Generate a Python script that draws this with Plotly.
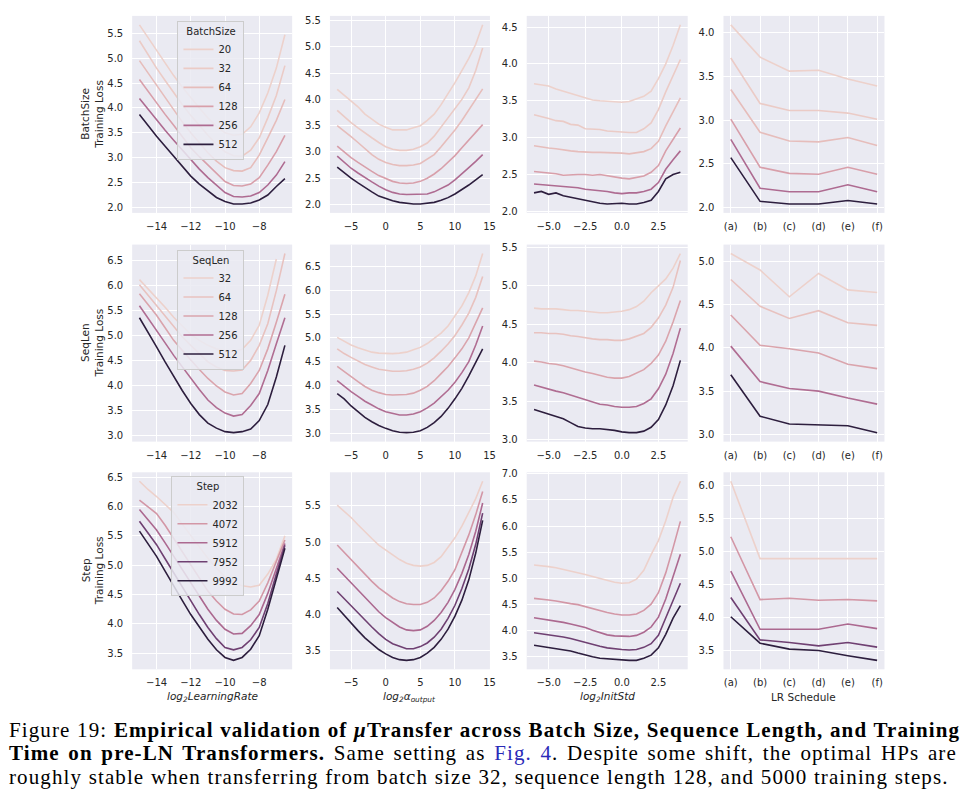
import numpy as np
import plotly.graph_objects as go

# ---------------- data ----------------
BATCH_SIZES = [20, 32, 64, 128, 256, 512]
SEQ_LENS = [32, 64, 128, 256, 512]
STEPS = [2032, 4072, 5912, 7952, 9992]

LOG2_LR = [-15, -14.5, -14, -13.5, -13, -12.5, -12, -11.5, -11, -10.5, -10,
           -9.5, -9, -8.5, -8, -7.5, -7, -6.5]
LOG2_ALPHA = [-7, -6, -5, -4, -3, -2, -1, 0, 1, 2, 3, 4, 5, 6, 7, 8, 9, 10,
              11, 12, 13, 14]
LOG2_INITSTD = [-6, -5.5, -5, -4.5, -4, -3.5, -3, -2.5, -2, -1.5, -1, -0.5, 0,
                0.5, 1, 1.5, 2, 2.5, 3, 3.5, 4]
LR_SCHEDULES = ["(a)", "(b)", "(c)", "(d)", "(e)", "(f)"]

# Batch size row
BS_LR = [
    [5.67, 5.41, 5.15, 4.90, 4.65, 4.42, 4.20, 4.00, 3.80, 3.63, 3.50, 3.45, 3.47, 3.62, 3.90, 4.30, 4.80, 5.47],
    [5.35, 5.07, 4.80, 4.55, 4.30, 4.07, 3.85, 3.64, 3.45, 3.27, 3.12, 3.04, 3.03, 3.15, 3.40, 3.80, 4.25, 4.85],
    [4.95, 4.70, 4.45, 4.20, 3.95, 3.72, 3.50, 3.29, 3.10, 2.93, 2.80, 2.74, 2.73, 2.80, 3.05, 3.40, 3.75, 4.17],
    [4.57, 4.33, 4.10, 3.87, 3.65, 3.42, 3.20, 3.02, 2.85, 2.67, 2.52, 2.44, 2.43, 2.47, 2.60, 2.85, 3.12, 3.45],
    [4.19, 3.97, 3.75, 3.55, 3.35, 3.15, 2.95, 2.77, 2.60, 2.44, 2.30, 2.22, 2.21, 2.23, 2.30, 2.45, 2.65, 2.92],
    [3.87, 3.64, 3.43, 3.23, 3.03, 2.83, 2.63, 2.47, 2.33, 2.20, 2.12, 2.07, 2.07, 2.09, 2.15, 2.25, 2.42, 2.58],
]
BS_ALPHA = [
    [4.19, 4.08, 3.98, 3.86, 3.72, 3.62, 3.53, 3.47, 3.42, 3.42, 3.42, 3.46, 3.50, 3.60, 3.72, 3.90, 4.10, 4.32, 4.55, 4.78, 5.05, 5.42],
    [3.79, 3.67, 3.56, 3.46, 3.36, 3.27, 3.18, 3.10, 3.05, 3.03, 3.03, 3.05, 3.10, 3.17, 3.30, 3.47, 3.65, 3.82, 4.00, 4.22, 4.55, 4.98],
    [3.50, 3.40, 3.29, 3.18, 3.07, 2.95, 2.86, 2.80, 2.76, 2.74, 2.74, 2.75, 2.78, 2.86, 2.95, 3.10, 3.25, 3.42, 3.60, 3.80, 4.00, 4.20],
    [3.11, 3.00, 2.89, 2.80, 2.71, 2.63, 2.55, 2.49, 2.44, 2.41, 2.40, 2.41, 2.44, 2.50, 2.58, 2.68, 2.80, 2.93, 3.08, 3.23, 3.38, 3.52],
    [2.92, 2.80, 2.69, 2.60, 2.51, 2.43, 2.35, 2.28, 2.23, 2.20, 2.19, 2.19, 2.19, 2.20, 2.24, 2.30, 2.37, 2.47, 2.58, 2.70, 2.82, 2.95],
    [2.71, 2.60, 2.50, 2.41, 2.32, 2.24, 2.16, 2.11, 2.07, 2.04, 2.02, 2.01, 2.01, 2.02, 2.04, 2.08, 2.13, 2.20, 2.28, 2.37, 2.47, 2.57],
]
BS_INIT = [
    [3.73, 3.71, 3.70, 3.66, 3.63, 3.61, 3.58, 3.54, 3.51, 3.50, 3.49, 3.48, 3.48, 3.49, 3.52, 3.56, 3.63, 3.80, 4.00, 4.25, 4.53],
    [3.31, 3.29, 3.26, 3.23, 3.22, 3.18, 3.17, 3.12, 3.12, 3.11, 3.09, 3.08, 3.08, 3.07, 3.07, 3.12, 3.20, 3.38, 3.62, 3.85, 4.06],
    [2.89, 2.88, 2.86, 2.85, 2.83, 2.82, 2.81, 2.80, 2.80, 2.80, 2.80, 2.80, 2.79, 2.78, 2.79, 2.81, 2.85, 2.95, 3.16, 3.36, 3.54],
    [2.54, 2.53, 2.53, 2.51, 2.49, 2.50, 2.50, 2.50, 2.49, 2.50, 2.48, 2.47, 2.45, 2.44, 2.46, 2.48, 2.53, 2.62, 2.82, 2.98, 3.13],
    [2.37, 2.36, 2.35, 2.34, 2.33, 2.33, 2.32, 2.30, 2.29, 2.28, 2.27, 2.25, 2.24, 2.25, 2.25, 2.27, 2.30, 2.39, 2.57, 2.70, 2.82],
    [2.25, 2.27, 2.23, 2.25, 2.21, 2.19, 2.17, 2.14, 2.12, 2.11, 2.10, 2.11, 2.11, 2.10, 2.10, 2.12, 2.15, 2.27, 2.44, 2.50, 2.53],
]
BS_SCHED = [
    [4.09, 3.72, 3.56, 3.57, 3.47, 3.39],
    [3.71, 3.19, 3.11, 3.11, 3.08, 3.01],
    [3.35, 2.86, 2.76, 2.75, 2.80, 2.71],
    [3.01, 2.46, 2.39, 2.38, 2.46, 2.38],
    [2.78, 2.22, 2.18, 2.18, 2.26, 2.18],
    [2.57, 2.07, 2.04, 2.04, 2.08, 2.04],
]

# Sequence length row
SL_LR = [
    [6.11, 5.93, 5.76, 5.56, 5.36, 5.18, 5.02, 4.90, 4.80, 4.73, 4.69, 4.67, 4.72, 4.90, 5.20, 5.80, 6.52, None],
    [6.01, 5.80, 5.59, 5.37, 5.16, 4.97, 4.80, 4.63, 4.47, 4.37, 4.30, 4.29, 4.31, 4.50, 4.80, 5.23, 5.89, 6.63],
    [5.83, 5.62, 5.40, 5.15, 4.90, 4.70, 4.50, 4.32, 4.14, 3.99, 3.87, 3.81, 3.84, 4.04, 4.30, 4.73, 5.26, 5.82],
    [5.59, 5.35, 5.10, 4.85, 4.60, 4.37, 4.14, 3.92, 3.71, 3.56, 3.45, 3.39, 3.42, 3.60, 3.84, 4.30, 4.83, 5.35],
    [5.35, 5.07, 4.77, 4.47, 4.17, 3.90, 3.64, 3.42, 3.25, 3.15, 3.08, 3.06, 3.08, 3.13, 3.30, 3.62, 4.17, 4.80],
]
SL_ALPHA = [
    [5.01, 4.93, 4.85, 4.79, 4.74, 4.70, 4.68, 4.67, 4.67, 4.68, 4.70, 4.75, 4.80, 4.88, 4.99, 5.10, 5.25, 5.45, 5.67, 5.95, 6.30, 6.77],
    [4.77, 4.67, 4.59, 4.51, 4.44, 4.39, 4.34, 4.32, 4.30, 4.30, 4.31, 4.34, 4.39, 4.47, 4.58, 4.72, 4.87, 5.05, 5.27, 5.52, 5.85, 6.29],
    [4.40, 4.29, 4.18, 4.08, 3.98, 3.90, 3.85, 3.81, 3.80, 3.80, 3.81, 3.84, 3.90, 3.98, 4.10, 4.25, 4.40, 4.58, 4.77, 5.00, 5.30, 5.63],
    [4.10, 3.98, 3.87, 3.77, 3.67, 3.59, 3.51, 3.45, 3.41, 3.38, 3.38, 3.40, 3.45, 3.53, 3.63, 3.76, 3.90, 4.07, 4.27, 4.50, 4.85, 5.25],
    [3.83, 3.72, 3.57, 3.44, 3.33, 3.24, 3.16, 3.10, 3.05, 3.02, 3.01, 3.02, 3.05, 3.12, 3.22, 3.35, 3.52, 3.72, 3.94, 4.20, 4.48, 4.77],
]
SL_INIT = [
    [4.71, 4.70, 4.70, 4.70, 4.69, 4.68, 4.68, 4.67, 4.66, 4.65, 4.65, 4.66, 4.67, 4.69, 4.73, 4.80, 4.91, 5.00, 5.09, 5.23, 5.42],
    [4.39, 4.39, 4.38, 4.38, 4.37, 4.35, 4.34, 4.32, 4.31, 4.30, 4.30, 4.29, 4.29, 4.31, 4.34, 4.38, 4.46, 4.58, 4.75, 4.98, 5.33],
    [4.02, 4.01, 3.99, 3.98, 3.96, 3.93, 3.90, 3.88, 3.86, 3.83, 3.81, 3.80, 3.80, 3.82, 3.86, 3.91, 3.99, 4.10, 4.28, 4.53, 4.81],
    [3.71, 3.68, 3.65, 3.63, 3.61, 3.58, 3.55, 3.51, 3.48, 3.46, 3.45, 3.43, 3.42, 3.42, 3.43, 3.47, 3.53, 3.66, 3.85, 4.12, 4.45],
    [3.39, 3.36, 3.32, 3.29, 3.27, 3.22, 3.17, 3.15, 3.14, 3.14, 3.13, 3.12, 3.10, 3.09, 3.09, 3.11, 3.16, 3.26, 3.45, 3.70, 4.03],
]
SL_SCHED = [
    [5.09, 4.90, 4.59, 4.86, 4.67, 4.64],
    [4.79, 4.48, 4.34, 4.43, 4.29, 4.26],
    [4.38, 4.03, 3.99, 3.94, 3.81, 3.76],
    [4.02, 3.61, 3.53, 3.50, 3.42, 3.35],
    [3.69, 3.21, 3.12, 3.11, 3.10, 3.02],
]

# Training step row
ST_LR = [
    [6.43, 6.29, 6.17, 6.03, 5.90, 5.70, 5.50, 5.30, 5.12, 4.95, 4.80, 4.70, 4.65, 4.63, 4.66, 4.85, 5.10, 5.50],
    [6.11, 6.00, 5.88, 5.68, 5.46, 5.24, 5.01, 4.78, 4.56, 4.39, 4.25, 4.17, 4.16, 4.24, 4.39, 4.70, 5.05, 5.43],
    [5.95, 5.78, 5.60, 5.38, 5.15, 4.93, 4.70, 4.47, 4.25, 4.06, 3.91, 3.83, 3.84, 3.97, 4.16, 4.52, 4.95, 5.37],
    [5.75, 5.55, 5.35, 5.11, 4.87, 4.63, 4.39, 4.16, 3.94, 3.75, 3.60, 3.56, 3.60, 3.73, 3.94, 4.35, 4.85, 5.34],
    [5.58, 5.37, 5.15, 4.90, 4.64, 4.40, 4.16, 3.94, 3.74, 3.56, 3.43, 3.38, 3.43, 3.57, 3.80, 4.25, 4.75, 5.29],
]
ST_ALPHA = [
    [5.51, 5.43, 5.34, 5.24, 5.14, 5.05, 4.96, 4.89, 4.82, 4.76, 4.71, 4.68, 4.67, 4.68, 4.72, 4.80, 4.93, 5.06, 5.22, 5.40, 5.60, 5.84],
    [4.96, 4.86, 4.76, 4.65, 4.55, 4.46, 4.37, 4.30, 4.23, 4.18, 4.15, 4.14, 4.14, 4.17, 4.23, 4.33, 4.46, 4.62, 4.85, 5.10, 5.38, 5.70],
    [4.64, 4.54, 4.44, 4.33, 4.23, 4.13, 4.04, 3.96, 3.89, 3.83, 3.79, 3.78, 3.79, 3.84, 3.92, 4.03, 4.17, 4.35, 4.57, 4.83, 5.15, 5.54],
    [4.32, 4.22, 4.12, 4.02, 3.92, 3.83, 3.74, 3.66, 3.60, 3.56, 3.53, 3.53, 3.56, 3.61, 3.69, 3.80, 3.95, 4.13, 4.36, 4.63, 4.97, 5.40],
    [4.10, 3.99, 3.88, 3.78, 3.68, 3.60, 3.52, 3.46, 3.41, 3.38, 3.37, 3.38, 3.41, 3.47, 3.55, 3.66, 3.80, 3.98, 4.20, 4.48, 4.85, 5.30],
]
ST_INIT = [
    [5.25, 5.24, 5.22, 5.20, 5.17, 5.14, 5.11, 5.07, 5.03, 4.99, 4.95, 4.92, 4.90, 4.91, 4.98, 5.15, 5.45, 5.72, 6.10, 6.55, 6.86],
    [4.61, 4.60, 4.58, 4.56, 4.53, 4.51, 4.49, 4.45, 4.42, 4.38, 4.34, 4.31, 4.29, 4.29, 4.31, 4.38, 4.50, 4.72, 5.10, 5.58, 6.09],
    [4.24, 4.22, 4.20, 4.18, 4.15, 4.12, 4.09, 4.05, 4.00, 3.95, 3.91, 3.89, 3.88, 3.88, 3.90, 3.96, 4.06, 4.25, 4.60, 5.05, 5.46],
    [3.95, 3.93, 3.92, 3.90, 3.87, 3.84, 3.80, 3.76, 3.72, 3.69, 3.66, 3.64, 3.63, 3.62, 3.63, 3.67, 3.74, 3.90, 4.22, 4.57, 4.90],
    [3.71, 3.69, 3.66, 3.64, 3.63, 3.60, 3.56, 3.52, 3.49, 3.46, 3.45, 3.43, 3.42, 3.42, 3.42, 3.46, 3.52, 3.66, 3.92, 4.23, 4.47],
]
ST_SCHED = [
    [6.06, 4.89, 4.89, 4.89, 4.89, 4.89],
    [5.22, 4.27, 4.29, 4.26, 4.27, 4.25],
    [4.70, 3.82, 3.82, 3.82, 3.90, 3.83],
    [4.30, 3.66, 3.62, 3.57, 3.62, 3.55],
    [4.01, 3.61, 3.52, 3.50, 3.42, 3.35],
]

ROW_NAMES = ["BatchSize", "SeqLen", "Step"]
X_TITLES = ["<i>log<sub>2</sub>LearningRate</i>", "<i>log<sub>2</sub>α<sub>output</sub></i>",
            "<i>log<sub>2</sub>InitStd</i>", "LR Schedule"]
CAPTION = [
    "Figure 19: <b>Empirical validation of <i>μ</i>Transfer across Batch Size, Sequence Length, and Training</b>",
    "<b>Time on pre-LN Transformers.</b> Same setting as <span style='color:#2a2ab8'>Fig. 4</span>. Despite some shift, the optimal HPs are",
    "roughly stable when transferring from batch size 32, sequence length 128, and 5000 training steps.",
]

# ---------------- styling helpers ----------------
W, H = 965, 805
COL_PX = [(133, 294), (332, 493), (530, 692), (728, 890)]
ROW_PX = [(12, 211), (243, 442), (473, 672)]
BG = "#EAEAF2"
TXT = "#262626"
FONT = "DejaVu Sans"
CAPTION_SPACING = ["letter-spacing:1.1px;word-spacing:0.3px",
                   "letter-spacing:1.1px;word-spacing:2.3px",
                   "letter-spacing:1.1px;word-spacing:0.3px"]


def cubehelix(t):
    """seaborn default sequential palette ('ch:'), t in [0,1] light->dark"""
    x = 0.85 + (0.15 - 0.85) * t
    a = 0.8 * x * (1 - x) / 2
    phi = 2 * np.pi * (0.4 * x)
    r = x + a * (-0.14861 * np.cos(phi) + 1.78277 * np.sin(phi))
    g = x + a * (-0.29227 * np.cos(phi) - 0.90649 * np.sin(phi))
    b = x + a * (1.97294 * np.cos(phi))
    c = np.clip([r, g, b], 0, 1)
    return "rgb(%d,%d,%d)" % tuple(int(round(v * 255)) for v in c)


def hue_colors(vals):
    lo, hi = min(vals), max(vals)
    return [cubehelix((v - lo) / (hi - lo)) for v in vals]


def px_x(p):
    return p / W


def px_y(p):
    return 1 - p / H


rows = [
    (BATCH_SIZES, [BS_LR, BS_ALPHA, BS_INIT, BS_SCHED]),
    (SEQ_LENS, [SL_LR, SL_ALPHA, SL_INIT, SL_SCHED]),
    (STEPS, [ST_LR, ST_ALPHA, ST_INIT, ST_SCHED]),
]
XS = [LOG2_LR, LOG2_ALPHA, LOG2_INITSTD, LR_SCHEDULES]

fig = go.Figure()
layout = {}
annotations = []

for r, (hues, panels) in enumerate(rows):
    colors = hue_colors(hues)
    legend_name = "legend" if r == 0 else f"legend{r + 1}"
    for c in range(4):
        idx = r * 4 + c + 1
        xa = "x" if idx == 1 else f"x{idx}"
        ya = "y" if idx == 1 else f"y{idx}"
        data = panels[c]
        for k, (hv, ys) in enumerate(zip(hues, data)):
            fig.add_trace(go.Scatter(
                x=XS[c], y=ys, mode="lines", name=str(hv),
                line=dict(color=colors[k], width=1.6),
                xaxis=xa, yaxis=ya, legend=legend_name,
                showlegend=(c == 0), hoverinfo="skip"))
        allv = [v for s in data for v in s if v is not None]
        lo, hi = min(allv), max(allv)
        m = (hi - lo) * 0.05
        yrange = [lo - m, hi + m]
        common = dict(showgrid=True, gridcolor="white", gridwidth=1.2,
                      zeroline=False, showline=False,
                      tickfont=dict(family=FONT, size=10, color=TXT),
                      ticks="outside", tickcolor="rgba(0,0,0,0)")
        xkey = "xaxis" if idx == 1 else f"xaxis{idx}"
        ykey = "yaxis" if idx == 1 else f"yaxis{idx}"
        xd = dict(domain=[px_x(COL_PX[c][0]), px_x(COL_PX[c][1])], anchor=ya,
                  ticklen=4, **common)
        if c == 0:
            xd.update(range=[-15.425, -6.075], tickvals=[-14, -12, -10, -8])
        elif c == 1:
            xd.update(range=[-8.05, 15.05], tickvals=[-5, 0, 5, 10, 15])
        elif c == 2:
            xd.update(range=[-6.5, 4.5], tickvals=[-5, -2.5, 0, 2.5], tickformat=".1f")
        else:
            xd.update(type="category", range=[-0.25, 5.25])
        layout[xkey] = xd
        layout[ykey] = dict(domain=[px_y(ROW_PX[r][1]), px_y(ROW_PX[r][0])], anchor=xa,
                            range=yrange, dtick=0.5, tick0=0, tickformat=".1f",
                            ticklen=6, **common)
        if r == 2:
            annotations.append(dict(
                text=X_TITLES[c], xref="paper", yref="paper",
                x=px_x((COL_PX[c][0] + COL_PX[c][1]) / 2), y=px_y(700),
                xanchor="center", yanchor="middle", showarrow=False,
                font=dict(family=FONT, size=10.5, color=TXT)))
    # row y-title
    annotations.append(dict(
        text=f"{ROW_NAMES[r]}<br>Training Loss", xref="paper", yref="paper",
        x=px_x(93), y=px_y((ROW_PX[r][0] + ROW_PX[r][1]) / 2), textangle=-90,
        xanchor="center", yanchor="middle", showarrow=False,
        font=dict(family=FONT, size=10.5, color=TXT)))
    # legend
    leg_top = [17, 248, 477][r]
    layout[legend_name] = dict(
        title=dict(text=ROW_NAMES[r], side="top center",
                   font=dict(family=FONT, size=10, color=TXT)),
        x=px_x(246), xanchor="right", y=px_y(leg_top), yanchor="top",
        bgcolor="rgba(234,234,242,0.85)", bordercolor="#cccccc", borderwidth=1,
        font=dict(family=FONT, size=10, color=TXT), itemwidth=30,
        tracegroupgap=0)

# caption
for i, line in enumerate(CAPTION):
    annotations.append(dict(
        text=f"<span style='{CAPTION_SPACING[i]}'>{line}</span>",
        xref="paper", yref="paper", x=px_x(7), y=px_y(733 + 24 * i),
        xanchor="left", yanchor="middle", showarrow=False,
        font=dict(family="Liberation Serif", size=21, color="black")))

fig.update_layout(
    width=W, height=H, margin=dict(l=0, r=0, t=0, b=0),
    paper_bgcolor="white", plot_bgcolor=BG, annotations=annotations,
    **layout)

fig.write_html("out.html")
